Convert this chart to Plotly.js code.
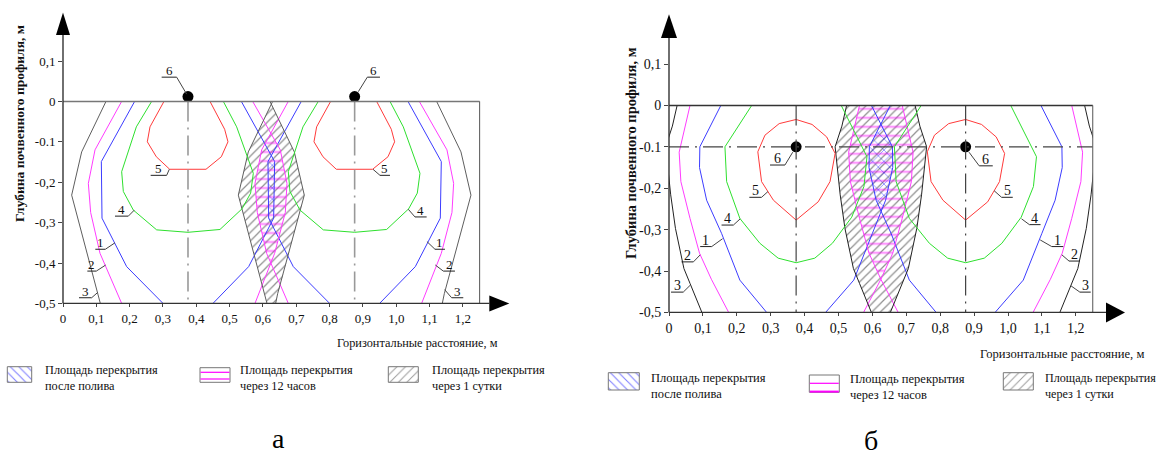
<!DOCTYPE html>
<html><head><meta charset="utf-8">
<script src="https://cdn.plot.ly/plotly-3.0.1.min.js"></script>
<style>html,body{margin:0;padding:0;background:#fff}#chart{width:1160px;height:456px}</style>
</head><body><div id="chart"></div>
<script>
// ================= DATA =================
const emitterX  = [0.375, 0.875];
const emitterYa = [0.012, 0.012];
const emitterYb = [-0.1, -0.1];
const curveNames = ['1', '2', '3', '4', '5'];
const emitterName = '6';

const xTickVals = [0, 0.1, 0.2, 0.3, 0.4, 0.5, 0.6, 0.7, 0.8, 0.9, 1.0, 1.1, 1.2];
const xTickText = ['0', '0,1', '0,2', '0,3', '0,4', '0,5', '0,6', '0,7', '0,8', '0,9', '1,0', '1,1', '1,2'];
const yTickVals = [0.1, 0, -0.1, -0.2, -0.3, -0.4, -0.5];
const yTickText = ['0,1', '0', '-0.1', '-0,2', '-0,3', '-0,4', '-0,5'];

const yTitle = 'Глубина почвенного профиля, м';
const xTitle = 'Горизонтальные расстояние, м';
const legendLine1 = ['Площадь перекрытия', 'Площадь перекрытия', 'Площадь перекрытия'];
const legendLine2 = ['после полива', 'через 12 часов', 'через 1 сутки'];
const panelLetters = ['а', 'б'];

// chart а: contour lines, horizontal offset from the emitter (dx, м) and depth (y, м)
const a1_dx = [-0.16, -0.26, -0.258, -0.184, -0.075, null, 0.075, 0.182, 0.257, 0.26, 0.16];
const a1_y  = [0, -0.149, -0.289, -0.409, -0.5, null, -0.5, -0.409, -0.289, -0.149, 0];
const a2_dx = [-0.199, -0.279, -0.299, -0.292, -0.264, -0.199, null, 0.201, 0.26, 0.292, 0.297, 0.277, 0.194];
const a2_y  = [0, -0.12, -0.203, -0.275, -0.376, -0.5, null, -0.5, -0.376, -0.275, -0.203, -0.12, 0];
const a3_dx = [-0.246, -0.319, -0.349, -0.269, -0.263, null, 0.263, 0.269, 0.349, 0.319, 0.246];
const a3_y  = [0, -0.125, -0.232, -0.476, -0.5, null, -0.5, -0.476, -0.232, -0.125, 0];
const a4_dx = [-0.109, -0.155, -0.199, -0.194, -0.164, -0.094, 0, 0.096, 0.162, 0.188, 0.196, 0.146, 0.106];
const a4_y  = [0, -0.063, -0.174, -0.223, -0.269, -0.318, -0.324, -0.317, -0.266, -0.227, -0.178, -0.063, 0];
const a5_dx = [-0.072, -0.114, -0.122, -0.095, -0.055, 0.054, 0.1, 0.12, 0.11, 0.066];
const a5_y  = [0, -0.063, -0.1, -0.137, -0.168, -0.168, -0.137, -0.1, -0.069, 0];
// chart а: overlap areas
const aOverAfter_x = [0.625, 0.635, 0.632, 0.625, 0.617, 0.615, 0.625];
const aOverAfter_y = [-0.134, -0.149, -0.289, -0.3, -0.289, -0.149, -0.134];
const aOver12h_x = [0.625, 0.652, 0.672, 0.667, 0.635, 0.625, 0.611, 0.583, 0.576, 0.596, 0.625];
const aOver12h_y = [-0.079, -0.12, -0.203, -0.275, -0.376, -0.4, -0.376, -0.275, -0.203, -0.12, -0.079];
const aOver1d_x = [0.625, 0.694, 0.724, 0.644, 0.638, 0.612, 0.606, 0.526, 0.556, 0.625];
const aOver1d_y = [-0.006, -0.125, -0.232, -0.476, -0.5, -0.5, -0.476, -0.232, -0.125, -0.006];

// chart б: contour lines
const b1_dx = [-0.222, -0.284, -0.285, -0.264, -0.22, -0.166, -0.087, null, 0.087, 0.17, 0.225, 0.264, 0.285, 0.284, 0.222];
const b1_y  = [0, -0.1, -0.15, -0.229, -0.309, -0.422, -0.5, null, -0.5, -0.422, -0.309, -0.229, -0.15, -0.1, 0];
const b2_dx = [-0.313, -0.345, -0.34, -0.313, -0.285, -0.25, -0.199, null, 0.199, 0.25, 0.285, 0.313, 0.34, 0.345, 0.313];
const b2_y  = [0, -0.113, -0.184, -0.273, -0.357, -0.42, -0.5, null, -0.5, -0.42, -0.357, -0.273, -0.184, -0.113, 0];
const b3_dx = [-0.351, -0.365, -0.385, -0.37, -0.356, -0.331, -0.313, -0.278, null, 0.278, 0.313, 0.331, 0.356, 0.37, 0.385, 0.365, 0.351];
const b3_y  = [0, -0.05, -0.1, -0.216, -0.297, -0.394, -0.43, -0.5, null, -0.5, -0.43, -0.394, -0.297, -0.216, -0.1, -0.05, 0];
const b4_dx = [-0.131, -0.21, -0.205, -0.166, -0.107, -0.053, 0, 0.055, 0.107, 0.164, 0.2, 0.209, 0.133];
const b4_y  = [0, -0.1, -0.184, -0.273, -0.333, -0.369, -0.38, -0.369, -0.333, -0.27, -0.196, -0.124, 0];
const b5_dx = [0, 0.047, 0.09, 0.115, 0.1, 0.065, 0, -0.067, -0.102, -0.107, -0.113, -0.092, -0.05, 0];
const b5_y  = [-0.034, -0.046, -0.076, -0.116, -0.184, -0.233, -0.277, -0.229, -0.184, -0.144, -0.112, -0.072, -0.044, -0.034];
// chart б: overlap areas
const bOverAfter_x = [0.625, 0.659, 0.66, 0.639, 0.625, 0.611, 0.59, 0.591, 0.625];
const bOverAfter_y = [-0.045, -0.1, -0.15, -0.229, -0.258, -0.229, -0.15, -0.1, -0.045];
const bOver12h_x = [0.688, 0.72, 0.715, 0.688, 0.66, 0.625, 0.59, 0.562, 0.535, 0.53, 0.562, 0.688];
const bOver12h_y = [0, -0.113, -0.184, -0.273, -0.357, -0.42, -0.357, -0.273, -0.184, -0.113, 0, 0];
const bOver1d_x = [0.726, 0.74, 0.76, 0.745, 0.731, 0.706, 0.688, 0.653, 0.597, 0.562, 0.544, 0.519, 0.505, 0.49, 0.51, 0.524, 0.726];
const bOver1d_y = [0, -0.05, -0.1, -0.216, -0.297, -0.394, -0.43, -0.5, -0.5, -0.43, -0.394, -0.297, -0.216, -0.1, -0.05, 0, 0];

// ================= LAYOUT / STYLE =================
const W = 1160, H = 456;
const FONT = 'Liberation Serif, Times New Roman, serif';
const X_MAX = 1.25, Y_MIN = -0.5, Y_MAX = 0.22;
const PANELS = [
  { xa: 'x', ya: 'y', x0: 63, sx: 333.3, y0: 101.4, sy: 404, tick: 13, lab: 13, c3: '#5e5e5e',
    yArrow: { base: 35, half: 7 }, xArrow: { base: 489.3, tip: 509.3, half: 8 },
    yTitle: { x: 20, y: 124, size: 13.5 }, xTitle: { x: 417, y: 343, size: 12.3 },
    letter: { x: 278, y: 438 }, topColor: '#777', dashColor: '#999' },
  { xa: 'x2', ya: 'y2', x0: 669, sx: 339, y0: 105.4, sy: 414, tick: 14, lab: 14, c3: '#222',
    yArrow: { base: 38, half: 8 }, xArrow: { base: 1106, tip: 1125, half: 10 },
    yTitle: { x: 631, y: 153, size: 14.5 }, xTitle: { x: 1062, y: 354, size: 12.6 },
    letter: { x: 871, y: 440 }, topColor: '#333', dashColor: '#444' }
];
const COL = { c1: '#3c3cff', c2: '#ff3cff', c4: '#2ee02e', c5: '#ff3a3a' };

const LEGEND = [
  [ { box: [7.3, 31.7, 366.7, 382.3], tx: 43.3, t1: 370, t2: 386, size: 12.3 },
    { box: [200, 230, 367.7, 382.3], mag: [372.3, 379], tx: 238.3, t1: 370, t2: 386, size: 12.3 },
    { box: [388.3, 418.3, 366.7, 382.3], tx: 430, t1: 370, t2: 386, size: 12.3 } ],
  [ { box: [608.3, 639.3, 372.7, 390], tx: 649.3, t1: 377.5, t2: 393.5, size: 12.5 },
    { box: [809.3, 839.3, 375, 392.3], mag: [383.3, 391.6], tx: 848.3, t1: 378.5, t2: 394.5, size: 12.5 },
    { box: [1003.3, 1033.3, 372.7, 390], tx: 1043, t1: 377.5, t2: 393.5, size: 12.1 } ]
];

// callouts: [curve index (0..4) or 'e', underline x0, x1, underline y, leader target x, y]
const CALLOUTS = [
  [ ['e', 0.296, 0.341, 0.06, 0.371, 0.018], [4, 0.263, 0.311, -0.183, 0.319, -0.168],
    [3, 0.156, 0.196, -0.284, 0.214, -0.269], [0, 0.097, 0.127, -0.366, 0.156, -0.35],
    [1, 0.073, 0.1, -0.42, 0.128, -0.405], [2, 0.048, 0.086, -0.486, 0.104, -0.473],
    ['e', 0.913, 0.951, 0.06, 0.886, 0.024], [4, 0.951, 0.981, -0.183, 0.93, -0.168],
    [3, 1.056, 1.091, -0.286, 1.036, -0.267], [0, 1.116, 1.146, -0.366, 1.092, -0.347],
    [1, 1.141, 1.176, -0.42, 1.117, -0.405], [2, 1.166, 1.201, -0.486, 1.145, -0.466] ],
  [ ['e', 0.298, 0.342, -0.144, 0.365, -0.113], [4, 0.237, 0.273, -0.222, 0.292, -0.208],
    [3, 0.155, 0.19, -0.289, 0.21, -0.274], [0, 0.092, 0.126, -0.341, 0.158, -0.322],
    [1, 0.037, 0.072, -0.378, 0.092, -0.361], [2, 0.006, 0.042, -0.451, 0.063, -0.434],
    ['e', 0.915, 0.955, -0.146, 0.885, -0.113], [4, 0.981, 1.014, -0.222, 0.959, -0.206],
    [3, 1.063, 1.096, -0.288, 1.04, -0.274], [0, 1.129, 1.163, -0.341, 1.095, -0.325],
    [1, 1.18, 1.212, -0.376, 1.159, -0.361], [2, 1.212, 1.244, -0.451, 1.186, -0.436] ]
];

// ================= BUILD =================
function place(dx, y) {          // same contour around each emitter
  const X = [], Y = [];
  emitterX.forEach((e, k) => {
    if (k) { X.push(null); Y.push(null); }
    dx.forEach((d, i) => { X.push(d === null ? null : +(e + d).toFixed(4)); Y.push(y[i]); });
  });
  return { x: X, y: Y };
}
const fx = v => v / W, fy = v => 1 - v / H;

const traces = [], shapes = [], annotations = [];
const layout = {
  width: W, height: H, margin: { l: 0, r: 0, t: 0, b: 0 },
  paper_bgcolor: '#fff', plot_bgcolor: 'rgba(0,0,0,0)', showlegend: false,
  font: { family: FONT, color: '#111' }, hovermode: false
};

const data = [
  { curves: [[a1_dx, a1_y], [a2_dx, a2_y], [a3_dx, a3_y], [a4_dx, a4_y], [a5_dx, a5_y]],
    over: [[aOver1d_x, aOver1d_y], [aOver12h_x, aOver12h_y], [aOverAfter_x, aOverAfter_y]], ey: emitterYa },
  { curves: [[b1_dx, b1_y], [b2_dx, b2_y], [b3_dx, b3_y], [b4_dx, b4_y], [b5_dx, b5_y]],
    over: [[bOver1d_x, bOver1d_y], [bOver12h_x, bOver12h_y], [bOverAfter_x, bOverAfter_y]], ey: emitterYb }
];

PANELS.forEach((p, pi) => {
  const sfx = pi === 0 ? '' : '2';
  const xPxEnd = p.x0 + X_MAX * p.sx, yPxBot = p.y0 - Y_MIN * p.sy, yPxTop = p.y0 - Y_MAX * p.sy;
  layout['xaxis' + sfx] = {
    domain: [fx(p.x0), fx(xPxEnd)], range: [0, X_MAX], anchor: 'y' + sfx,
    tickvals: xTickVals, ticktext: xTickText, ticks: 'outside', ticklen: 3, tickcolor: '#444',
    showgrid: false, zeroline: false, showline: false, fixedrange: true,
    tickfont: { family: FONT, size: p.tick, color: '#111' }
  };
  layout['yaxis' + sfx] = {
    domain: [fy(yPxBot), fy(yPxTop)], range: [Y_MIN, Y_MAX], anchor: 'x' + sfx,
    tickvals: yTickVals, ticktext: yTickText, ticks: 'outside', ticklen: 4, tickcolor: '#444',
    showgrid: false, zeroline: false, showline: false, fixedrange: true,
    tickfont: { family: FONT, size: p.tick, color: '#111' }
  };
  const d = data[pi];
  const common = { xaxis: p.xa, yaxis: p.ya, hoverinfo: 'skip' };
  // overlap areas (hatched)
  const pats = [
    { shape: '/', fgcolor: '#1e1e1e', size: 6, solidity: 0.2 },
    { shape: '-', fgcolor: '#ff00ff', size: 9, solidity: 0.2 },
    { shape: 'x', fgcolor: '#0000ff', size: 8, solidity: 0.18 }
  ];
  d.over.forEach((o, i) => {
    traces.push(Object.assign({
      x: o[0], y: o[1], mode: 'lines', fill: 'toself', line: { width: 0, color: 'rgba(0,0,0,0)' },
      fillcolor: 'rgba(0,0,0,0)',
      fillpattern: Object.assign({ bgcolor: 'rgba(0,0,0,0)', fillmode: 'overlay' }, pats[i])
    }, common));
  });
  // contour lines
  const colors = [COL.c1, COL.c2, p.c3, COL.c4, COL.c5];
  d.curves.forEach((c, i) => {
    const pl = place(c[0], c[1]);
    traces.push(Object.assign({ x: pl.x, y: pl.y, mode: 'lines', line: { color: colors[i], width: 1 } }, common));
  });
  // emitters
  traces.push(Object.assign({ x: emitterX, y: d.ey, mode: 'markers', cliponaxis: false,
    marker: { color: '#000', size: 11 } }, common));

  // emitter axes (dash-dot)
  emitterX.forEach(e => shapes.push({ type: 'line', xref: p.xa, yref: p.ya, x0: e, x1: e, y0: 0, y1: Y_MIN,
    line: { color: p.dashColor, width: pi ? 1.2 : 1.6, dash: '20px,6px,2px,6px' } }));
  if (pi === 1) shapes.push({ type: 'line', xref: p.xa, yref: p.ya, x0: 0, x1: X_MAX, y0: emitterYb[0], y1: emitterYb[0],
    line: { color: p.dashColor, width: 1.2, dash: '20px,6px,2px,6px' } });

  // frame & axes (paper coordinates)
  const L = (x0, y0, x1, y1, color, w) => shapes.push({ type: 'line', xref: 'paper', yref: 'paper',
    x0: fx(x0), y0: fy(y0), x1: fx(x1), y1: fy(y1), line: { color, width: w } });
  L(p.x0, p.y0, xPxEnd, p.y0, p.topColor, 1.5);
  L(xPxEnd, p.y0, xPxEnd, yPxBot, '#555', 1);
  L(p.x0, yPxBot, p.x0, p.yArrow.base, '#333', 1.4);
  L(p.x0, yPxBot, p.xArrow.base, yPxBot, '#333', 1.4);
  shapes.push({ type: 'path', xref: 'paper', yref: 'paper', fillcolor: '#000', line: { width: 0 },
    path: `M${fx(p.x0 - p.yArrow.half)},${fy(p.yArrow.base)}L${fx(p.x0 + p.yArrow.half)},${fy(p.yArrow.base)}L${fx(p.x0)},${fy(yPxTop)}Z` });
  shapes.push({ type: 'path', xref: 'paper', yref: 'paper', fillcolor: '#000', line: { width: 0 },
    path: `M${fx(p.xArrow.base)},${fy(yPxBot - p.xArrow.half)}L${fx(p.xArrow.base)},${fy(yPxBot + p.xArrow.half)}L${fx(p.xArrow.tip)},${fy(yPxBot)}Z` });

  // titles
  annotations.push({ xref: 'paper', yref: 'paper', x: fx(p.yTitle.x), y: fy(p.yTitle.y), text: '<b>' + yTitle + '</b>',
    textangle: -90, showarrow: false, xanchor: 'center', yanchor: 'middle', font: { family: FONT, size: p.yTitle.size, color: '#111' } });
  annotations.push({ xref: 'paper', yref: 'paper', x: fx(p.xTitle.x), y: fy(p.xTitle.y), text: xTitle,
    showarrow: false, xanchor: 'center', yanchor: 'middle', font: { family: FONT, size: p.xTitle.size, color: '#111' } });
  annotations.push({ xref: 'paper', yref: 'paper', x: fx(p.letter.x), y: fy(p.letter.y), text: panelLetters[pi],
    showarrow: false, xanchor: 'center', yanchor: 'middle', font: { family: FONT, size: 28, color: '#000' } });

  // callouts
  CALLOUTS[pi].forEach(c => {
    const label = c[0] === 'e' ? emitterName : curveNames[c[0]];
    const ux0 = c[1], ux1 = c[2], uy = c[3], tx = c[4], ty = c[5];
    const end = Math.abs(ux1 - tx) < Math.abs(ux0 - tx) ? ux1 : ux0;
    shapes.push({ type: 'line', xref: p.xa, yref: p.ya, x0: ux0, x1: ux1, y0: uy, y1: uy, line: { color: '#222', width: 1 } });
    shapes.push({ type: 'line', xref: p.xa, yref: p.ya, x0: end, x1: tx, y0: uy, y1: ty, line: { color: '#444', width: 1 } });
    annotations.push({ xref: p.xa, yref: p.ya, x: (ux0 + ux1) / 2, y: uy, text: label, showarrow: false,
      xanchor: 'center', yanchor: 'bottom', yshift: -3, font: { family: FONT, size: p.lab, color: '#111' } });
  });

  // legend
  const legPats = [
    { shape: '\\', fgcolor: '#0000ff', size: 6, solidity: 0.18 },
    null,
    { shape: '/', fgcolor: '#333', size: 6, solidity: 0.16 }
  ];
  LEGEND[pi].forEach((it, i) => {
    const [bx0, bx1, by0, by1] = it.box;
    const tr = { x: [bx0, bx1, bx1, bx0, bx0], y: [by0, by0, by1, by1, by0], mode: 'lines',
      xaxis: 'x3', yaxis: 'y3', hoverinfo: 'skip', line: { color: '#777', width: 1 },
      fill: 'toself', fillcolor: 'rgba(0,0,0,0)' };
    if (legPats[i]) tr.fillpattern = Object.assign({ bgcolor: 'rgba(0,0,0,0)', fillmode: 'overlay' }, legPats[i]);
    traces.push(tr);
    if (it.mag) it.mag.forEach((my, k) => L(bx0 + 0.5, my, bx1 - 0.5, my, '#ff00ff', (pi === 1 && k === 1) ? 2 : 1.2));
    annotations.push({ xref: 'paper', yref: 'paper', x: fx(it.tx), y: fy(it.t1), text: legendLine1[i], showarrow: false,
      xanchor: 'left', yanchor: 'middle', font: { family: FONT, size: it.size, color: '#111' } });
    annotations.push({ xref: 'paper', yref: 'paper', x: fx(it.tx), y: fy(it.t2), text: legendLine2[i], showarrow: false,
      xanchor: 'left', yanchor: 'middle', font: { family: FONT, size: it.size, color: '#111' } });
  });
});

layout.xaxis3 = { domain: [0, 1], range: [0, W], anchor: 'y3', visible: false, fixedrange: true };
layout.yaxis3 = { domain: [0, 1], range: [H, 0], anchor: 'x3', visible: false, fixedrange: true };
layout.shapes = shapes;
layout.annotations = annotations;

Plotly.newPlot('chart', traces, layout, { staticPlot: true, displayModeBar: false });
</script>
</body></html>
